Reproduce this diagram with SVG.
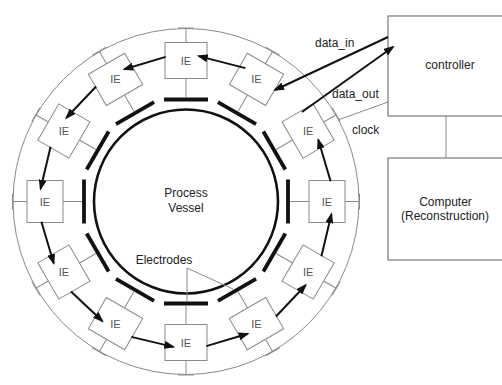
<svg xmlns="http://www.w3.org/2000/svg" xmlns:xlink="http://www.w3.org/1999/xlink" width="502" height="385" viewBox="0 0 502 385">
<style>
.thin{fill:none;stroke:#8a8a8a;stroke-width:1}
.box{fill:#fff;stroke:#8a8a8a;stroke-width:1}
.ctl{fill:#fff;stroke:#7a7a7a;stroke-width:1.2}
.electrode{stroke:#111;stroke-width:3.8;stroke-linecap:butt}
.vessel{fill:none;stroke:#111;stroke-width:2.6}
.arrow{fill:none;stroke:#111;stroke-width:2;marker-end:url(#ah)}
.ie{font-family:"Liberation Sans",Arial,sans-serif;font-size:11px;fill:#555;text-anchor:middle}
.lbl{font-family:"Liberation Sans",Arial,sans-serif;font-size:12px;fill:#222}
.mid{text-anchor:middle}
</style>
<defs>
<marker id="ah" viewBox="0 0 11 8" refX="9" refY="4" markerWidth="11" markerHeight="8" markerUnits="userSpaceOnUse" orient="auto">
<path d="M0,0 L11,4 L0,8 z" fill="#111"/>
</marker>
<g id="ieShape">
<rect class="box" x="-21" y="-159" width="42" height="36"/>
<line class="thin" x1="0" y1="-159" x2="0" y2="-173.5"/>
<line class="thin" x1="-8" y1="-173.5" x2="8" y2="-173.5"/>
<line class="thin" x1="0" y1="-123" x2="0" y2="-104"/>
</g>
<line id="el" class="electrode" x1="-22" y1="-102" x2="22" y2="-102"/>
</defs>
<rect width="502" height="385" fill="#fff"/>

<g id="ring" transform="translate(186,201.5)">
<circle class="thin" cx="0" cy="0" r="173"/>
</g>

<g id="vessel" transform="translate(186,201.5)">
<circle class="vessel" cx="0" cy="0" r="92"/>
<text class="lbl mid" x="0" y="-4.5">Process</text>
<text class="lbl mid" x="0" y="10.5">Vessel</text>
</g>

<g id="electrodes" transform="translate(186,201.5)">
<use xlink:href="#el" transform="rotate(0)"/>
<use xlink:href="#el" transform="rotate(-30)"/>
<use xlink:href="#el" transform="rotate(-60)"/>
<use xlink:href="#el" transform="rotate(-90)"/>
<use xlink:href="#el" transform="rotate(-120)"/>
<use xlink:href="#el" transform="rotate(-150)"/>
<use xlink:href="#el" transform="rotate(180)"/>
<use xlink:href="#el" transform="rotate(150)"/>
<use xlink:href="#el" transform="rotate(120)"/>
<use xlink:href="#el" transform="rotate(90)"/>
<use xlink:href="#el" transform="rotate(60)"/>
<use xlink:href="#el" transform="rotate(30)"/>
</g>

<g id="ie-nodes" transform="translate(186,201.5)">
<g id="ie-090"><use xlink:href="#ieShape" transform="rotate(0)"/><text class="ie" x="0" y="-137">IE</text></g>
<g id="ie-120"><use xlink:href="#ieShape" transform="rotate(-30)"/><text class="ie" x="-70.5" y="-118.1">IE</text></g>
<g id="ie-150"><use xlink:href="#ieShape" transform="rotate(-60)"/><text class="ie" x="-122.1" y="-66.5">IE</text></g>
<g id="ie-180"><use xlink:href="#ieShape" transform="rotate(-90)"/><text class="ie" x="-141" y="4">IE</text></g>
<g id="ie-210"><use xlink:href="#ieShape" transform="rotate(-120)"/><text class="ie" x="-122.1" y="74.5">IE</text></g>
<g id="ie-240"><use xlink:href="#ieShape" transform="rotate(-150)"/><text class="ie" x="-70.5" y="126.1">IE</text></g>
<g id="ie-270"><use xlink:href="#ieShape" transform="rotate(180)"/><text class="ie" x="0" y="145">IE</text></g>
<g id="ie-300"><use xlink:href="#ieShape" transform="rotate(150)"/><text class="ie" x="70.5" y="126.1">IE</text></g>
<g id="ie-330"><use xlink:href="#ieShape" transform="rotate(120)"/><text class="ie" x="122.1" y="74.5">IE</text></g>
<g id="ie-000"><use xlink:href="#ieShape" transform="rotate(90)"/><text class="ie" x="141" y="4">IE</text></g>
<g id="ie-030"><use xlink:href="#ieShape" transform="rotate(60)"/><text class="ie" x="122.1" y="-66.5">IE</text></g>
<g id="ie-060"><use xlink:href="#ieShape" transform="rotate(30)"/><text class="ie" x="70.5" y="-118.1">IE</text></g>
</g>

<g id="controller">
<rect class="ctl" x="388" y="16" width="130" height="100"/>
<text class="lbl mid" x="450" y="69">controller</text>
</g>

<g id="computer">
<rect class="ctl" x="388" y="158" width="130" height="102"/>
<text class="lbl mid" x="445.5" y="206">Computer</text>
<text class="lbl mid" x="445" y="220">(Reconstruction)</text>
</g>

<g id="electrodes-label">
<text class="lbl mid" x="164" y="264">Electrodes</text>
<line class="thin" x1="187" y1="268" x2="187" y2="302"/>
<line class="thin" x1="187" y1="268" x2="233" y2="289"/>
</g>

<g id="connectors">
<path class="arrow" d="M245.4,68.1 L198.7,56.1"/>
<path class="arrow" d="M165.7,56.9 L124.3,69.2"/>
<path class="arrow" d="M96.1,86.5 L66.4,117.8"/>
<path class="arrow" d="M50.6,146.8 L40.6,188.8"/>
<path class="arrow" d="M41.4,221.8 L53.7,263.2"/>
<path class="arrow" d="M71.0,291.4 L102.3,321.1"/>
<path class="arrow" d="M131.3,336.9 L173.3,346.9"/>
<path class="arrow" d="M206.3,346.1 L247.7,333.8"/>
<path class="arrow" d="M275.9,316.5 L305.6,285.2"/>
<path class="arrow" d="M321.4,256.2 L331.4,214.2"/>
<path class="arrow" d="M330.6,181.2 L318.3,139.8"/>
<path class="arrow" d="M388,37 L275,90"/>
<path class="arrow" d="M302,112 L393,47"/>
<line class="thin" x1="388" y1="102" x2="338" y2="120"/>
<line class="thin" x1="446" y1="116" x2="446" y2="158"/>
<text class="lbl" x="315" y="47">data_in</text>
<text class="lbl" x="332" y="98">data_out</text>
<text class="lbl" x="352" y="134">clock</text>
</g>
</svg>
